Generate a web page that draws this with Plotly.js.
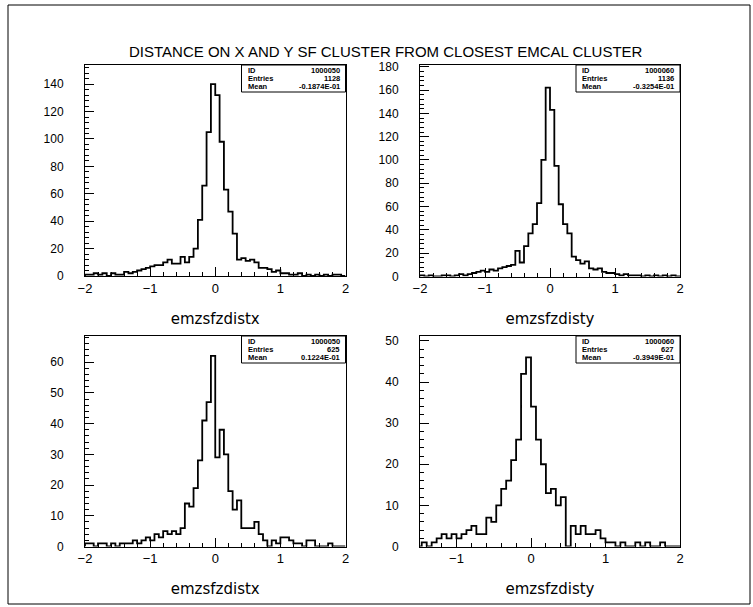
<!DOCTYPE html>
<html>
<head>
<meta charset="utf-8">
<script src="https://cdn.plot.ly/plotly-3.0.1.min.js"></script>
<style>
  html, body { margin: 0; padding: 0; background: #fff; }
  #plot { width: 753px; height: 607px; }
</style>
</head>
<body>
<div id="plot"></div>
<script>
// Shared binning of the four histograms
const binLow = -2, binHigh = 2;

// Bin contents, one entry per bin (60 bins from -2 to 2)
const distxUpper = [1,1,2,1,2,0,2,1,1,3, 2,3,4,5,6,7,8,8,10,12, 9,9,14,10,14,20,41,66,105,140,
                    132,98,63,47,31,12,13,11,12,10, 6,6,5,3,4,2,2,1,1,2, 0,1,0,1,0,1,0,1,1,0];
const distyUpper = [1,0,1,0,0,1,1,0,1,2, 1,2,3,4,5,4,6,5,7,8, 9,10,22,12,26,37,45,63,100,162,
                    143,95,62,45,37,17,14,11,13,7, 6,7,4,3,3,2,1,2,1,1, 1,0,1,0,1,0,1,0,1,0];
const distxLower = [1,1,0,1,1,0,1,0,1,1, 1,2,1,2,3,2,4,3,5,4, 5,4,6,14,13,19,28,41,47,62,
                    29,38,30,18,12,15,6,6,6,8, 4,2,0,2,1,3,3,2,1,1, 0,2,2,0,0,0,1,0,0,0];
const distyLower = [0,0,0,0,0,0,0,0,1,0, 1,2,3,2,3,2,3,4,5,3, 3,7,6,10,14,16,21,26,42,46,
                    34,26,20,13,14,10,12,0,5,3, 5,3,3,4,2,1,1,0,1,0, 0,1,0,1,0,0,1,0,0,0];

// Statistics printed in the boxes
const histIds   = ['1000050', '1000060', '1000050', '1000060'];
const entries   = ['1128', '1136', '625', '627'];
const means     = ['-0.1874E-01', '-0.3254E-01', '0.1224E-01', '-0.3949E-01'];
const varNames  = ['emzsfzdistx', 'emzsfzdisty', 'emzsfzdistx', 'emzsfzdisty'];
const seriesAll = [distxUpper, distyUpper, distxLower, distyLower];

const W = 753, H = 607;
const px = x => x / W;
const py = y => 1 - y / H;

// Frame of each plot in pixels
const frames = [
  { l: 85,  r: 345.5, t: 65,  b: 276,   xr: [-2, 2],    yr: [0, 154],   ydt: 20, ymin: 4 },
  { l: 420, r: 680,   t: 65,  b: 276.5, xr: [-2, 2],    yr: [0, 181.5], ydt: 20, ymin: 4 },
  { l: 85,  r: 345.5, t: 336, b: 546.5, xr: [-2, 2],    yr: [0, 68.5],  ydt: 10, ymin: 2 },
  { l: 420, r: 680,   t: 336, b: 546.5, xr: [-1.49, 2], yr: [0, 51.2],  ydt: 10, ymin: 2 }
];

// Outline of a histogram as a stepped line
function stepOutline(vals) {
  const w = (binHigh - binLow) / vals.length;
  const xs = [binLow], ys = [0];
  vals.forEach((v, i) => { xs.push(binLow + i * w); ys.push(v); });
  xs.push(binHigh); ys.push(vals[vals.length - 1]);
  xs.push(binHigh); ys.push(0);
  return { xs, ys };
}

const xTickFont = { family: 'Liberation Sans, Arial, sans-serif', size: 13, color: '#000' };
const yTickFont = { family: 'Liberation Sans, Arial, sans-serif', size: 12, color: '#000' };
const traces = [];
const layout = {
  width: W, height: H,
  margin: { l: 0, r: 0, t: 0, b: 0 },
  paper_bgcolor: '#fff', plot_bgcolor: '#fff',
  showlegend: false,
  shapes: [], annotations: [],
  title: { text: '' }
};

// Outer page frame
layout.shapes.push({ type: 'rect', xref: 'paper', yref: 'paper',
  x0: px(8), x1: px(750), y0: py(604), y1: py(5), line: { color: '#000', width: 1 } });

// Page title
layout.annotations.push({ xref: 'paper', yref: 'paper', x: px(386), y: py(52),
  xanchor: 'center', yanchor: 'middle', showarrow: false,
  text: 'DISTANCE ON X AND Y SF CLUSTER FROM CLOSEST EMCAL CLUSTER',
  font: { family: 'Liberation Sans, Arial, sans-serif', size: 15, color: '#000' } });

frames.forEach((f, k) => {
  const n = k === 0 ? '' : String(k + 1);
  const out = stepOutline(seriesAll[k]);
  traces.push({
    type: 'scatter', mode: 'lines', x: out.xs, y: out.ys,
    xaxis: 'x' + n, yaxis: 'y' + n,
    line: { shape: 'hv', color: '#000', width: 1.8 },
    hoverinfo: 'skip', cliponaxis: true
  });
  layout['xaxis' + n] = {
    domain: [px(f.l), px(f.r)], range: f.xr, anchor: 'y' + n,
    showline: true, linecolor: '#000', linewidth: 1, mirror: true,
    ticks: 'inside', ticklen: 9, tickcolor: '#000', tickwidth: 1,
    tick0: 0, dtick: 1,
    minor: { ticks: 'inside', ticklen: 4, dtick: 0.2, tick0: 0, tickcolor: '#000', showgrid: false },
    showgrid: false, zeroline: false, tickfont: xTickFont, ticklabelstandoff: 0,
    title: { text: varNames[k], standoff: 18,
      font: { family: 'DejaVu Sans, sans-serif', size: 15, color: '#000' } }
  };
  layout['yaxis' + n] = {
    domain: [py(f.b), py(f.t)], range: f.yr, anchor: 'x' + n,
    showline: true, linecolor: '#000', linewidth: 1, mirror: true,
    ticks: 'inside', ticklen: 9, tickcolor: '#000', tickwidth: 1,
    tick0: 0, dtick: f.ydt,
    minor: { ticks: 'inside', ticklen: 4, dtick: f.ymin, tick0: 0, tickcolor: '#000', showgrid: false },
    showgrid: false, zeroline: false, tickfont: yTickFont, ticklabelstandoff: 18
  };

  // Statistics box in the upper right corner
  const bl = f.r - 104, bb = f.t + 27;
  layout.shapes.push({ type: 'rect', xref: 'paper', yref: 'paper',
    x0: px(bl), x1: px(f.r), y0: py(bb), y1: py(f.t), line: { color: '#000', width: 1 } });
  const rows = [['ID', histIds[k]], ['Entries', entries[k]], ['Mean', means[k]]];
  rows.forEach((row, j) => {
    const yy = py(f.t + 5 + j * 8.3);
    const sf = { family: 'Liberation Sans, Arial, sans-serif', size: 7.5, color: '#000', weight: 'bold' };
    layout.annotations.push({ xref: 'paper', yref: 'paper', x: px(bl + 4), y: yy,
      xanchor: 'left', yanchor: 'middle', showarrow: false, text: row[0], font: sf });
    layout.annotations.push({ xref: 'paper', yref: 'paper', x: px(f.r - 4), y: yy,
      xanchor: 'right', yanchor: 'middle', showarrow: false, text: row[1], font: sf });
  });
});

Plotly.newPlot('plot', traces, layout, { staticPlot: true, displayModeBar: false });
</script>
</body>
</html>
